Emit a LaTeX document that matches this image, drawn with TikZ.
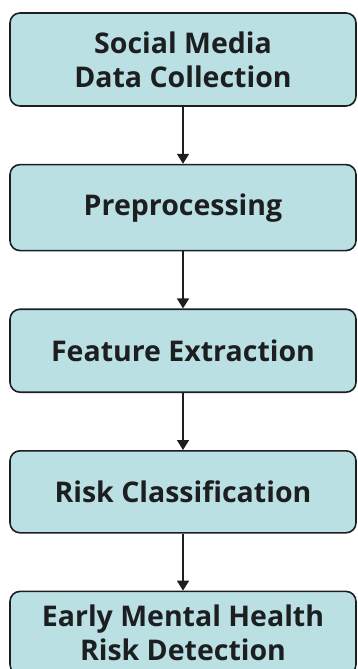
\documentclass[tikz,border=0pt]{standalone}
\usepackage{fontspec}
\setmainfont{Open Sans}
\usetikzlibrary{arrows.meta, positioning}
\definecolor{stepcyan}{RGB}{186,224,228}
\definecolor{bordercolor}{RGB}{28,30,32}
\tikzset{
  base/.style={draw=bordercolor, line width=1.6pt, align=center,
               font=\fontsize{28.5}{34}\selectfont\bfseries, text=bordercolor},
  stage/.style = {base, rounded corners=10pt, fill=stepcyan,
                  minimum width=346pt, minimum height=83pt, inner sep=2pt},
  arr/.style   = {-{Triangle[length=10pt, width=12pt]}, line width=1.6pt, color=bordercolor},
}

\begin{document}
\begin{tikzpicture}[node distance=57pt]
  \useasboundingbox (0,0) rectangle (357pt,-669pt);

  % Pipeline stages
  \node[stage, minimum height=93pt] (collect) at (183pt,-59.5pt) {Social Media\\Data Collection};
  \node[stage, minimum height=86pt, below=of collect] (prep) {Preprocessing};
  \node[stage, below=of prep]    (feat) {Feature Extraction};
  \node[stage, minimum height=82pt, below=of feat] (classify) {Risk Classification};
  \node[stage, below=of classify] (detect) {Early Mental Health\\Risk Detection};

  % Flow
  \draw[arr] (collect) -- (prep);
  \draw[arr] (prep)    -- (feat);
  \draw[arr] (feat)    -- (classify);
  \draw[arr] (classify) -- (detect);

\end{tikzpicture}
\end{document}
